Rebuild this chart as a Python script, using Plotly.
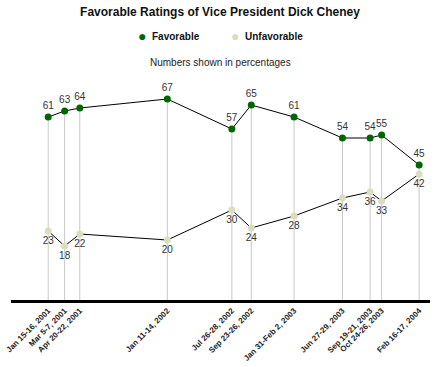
import plotly.graph_objects as go

dates = ["2001-01-15", "2001-03-06", "2001-04-21", "2002-01-12", "2002-07-27",
         "2002-09-24", "2003-02-01", "2003-06-28", "2003-09-20", "2003-10-25",
         "2004-02-16"]
tick_labels = ["Jan 15-16, 2001", "Mar 5-7, 2001", "Apr 20-22, 2001", "Jan 11-14, 2002",
               "Jul 26-28, 2002", "Sep 23-26, 2002", "Jan 31-Feb 2, 2003",
               "Jun 27-29, 2003", "Sep 19-21, 2003", "Oct 24-26, 2003", "Feb 16-17, 2004"]
favorable = [61, 63, 64, 67, 57, 65, 61, 54, 54, 55, 45]
unfavorable = [23, 18, 22, 20, 30, 24, 28, 34, 36, 33, 42]
series_names = ["Favorable", "Unfavorable"]

GREEN = "#006600"
BEIGE = "#DCDCBE"

fig = go.Figure()

# vertical drop lines
vx, vy = [], []
for d, f in zip(dates, favorable):
    vx += [d, d, None]
    vy += [0, f, None]
fig.add_trace(go.Scatter(x=vx, y=vy, mode="lines", line=dict(color="#C8C8C8", width=1),
                         hoverinfo="skip", showlegend=False))

fig.add_trace(go.Scatter(x=dates, y=unfavorable, mode="lines+markers+text",
                         name=series_names[1],
                         line=dict(color="black", width=1),
                         marker=dict(color=BEIGE, size=7),
                         text=[str(v) for v in unfavorable], textposition="bottom center",
                         textfont=dict(family="Liberation Sans, Arial", size=10, color="#333333"),
                         showlegend=False))
fig.add_trace(go.Scatter(x=dates, y=favorable, mode="lines+markers+text",
                         name=series_names[0],
                         line=dict(color="black", width=1),
                         marker=dict(color=GREEN, size=7),
                         text=[str(v) for v in favorable], textposition="top center",
                         textfont=dict(family="Liberation Sans, Arial", size=10, color="#333333"),
                         showlegend=False))

H = 229.0  # plot area height in px
def py(px):
    return (300 - px) / H

legend_y = py(36.5)
annotations = [
    dict(text="Numbers shown in percentages", xref="paper", yref="paper",
         x=0.5, y=py(62), xanchor="center", yanchor="middle",
         showarrow=False, font=dict(size=10, color="#222222")),
]
# custom legend (marker dot + bold label)
for name, color, mx in [(series_names[0], GREEN, 142), (series_names[1], BEIGE, 235)]:
    annotations.append(dict(text="●", xref="paper", yref="paper",
                            x=(mx - 11) / 419, y=legend_y, xanchor="center", yanchor="middle",
                            showarrow=False, font=dict(size=14, color=color)))
    annotations.append(dict(text="<b>%s</b>" % name, xref="paper", yref="paper",
                            x=(mx + 8 - 11) / 419, y=legend_y, xanchor="left", yanchor="middle",
                            showarrow=False, font=dict(size=10, color="#111111")))

fig.update_layout(
    width=440, height=367,
    margin=dict(l=11, r=10, t=71, b=67, autoexpand=False),
    paper_bgcolor="white", plot_bgcolor="white",
    font=dict(family="Liberation Sans, Arial", color="#222222"),
    title=dict(text="<b>Favorable Ratings of Vice President Dick Cheney</b>",
               x=0.5, xanchor="center", y=1 - 12 / 367, yanchor="middle",
               font=dict(size=12, color="#111111")),
    showlegend=False,
    annotations=annotations,
)
fig.update_xaxes(type="date", range=["2000-09-24", "2004-03-20"],
                 tickvals=dates, ticktext=tick_labels, tickangle=-45,
                 tickfont=dict(size=8, color="#222222", weight="bold"),
                 ticklabeloverflow="allow",
                 showgrid=False, zeroline=False, showline=True, linecolor="black",
                 linewidth=3, ticks="", fixedrange=True, automargin=False)
fig.update_yaxes(range=[0, H / 3], visible=False, showgrid=False, fixedrange=True,
                 automargin=False)

fig.write_html("out.html", config={"displayModeBar": False},
               post_script="document.body.style.margin='0';document.body.style.overflow='hidden';")
